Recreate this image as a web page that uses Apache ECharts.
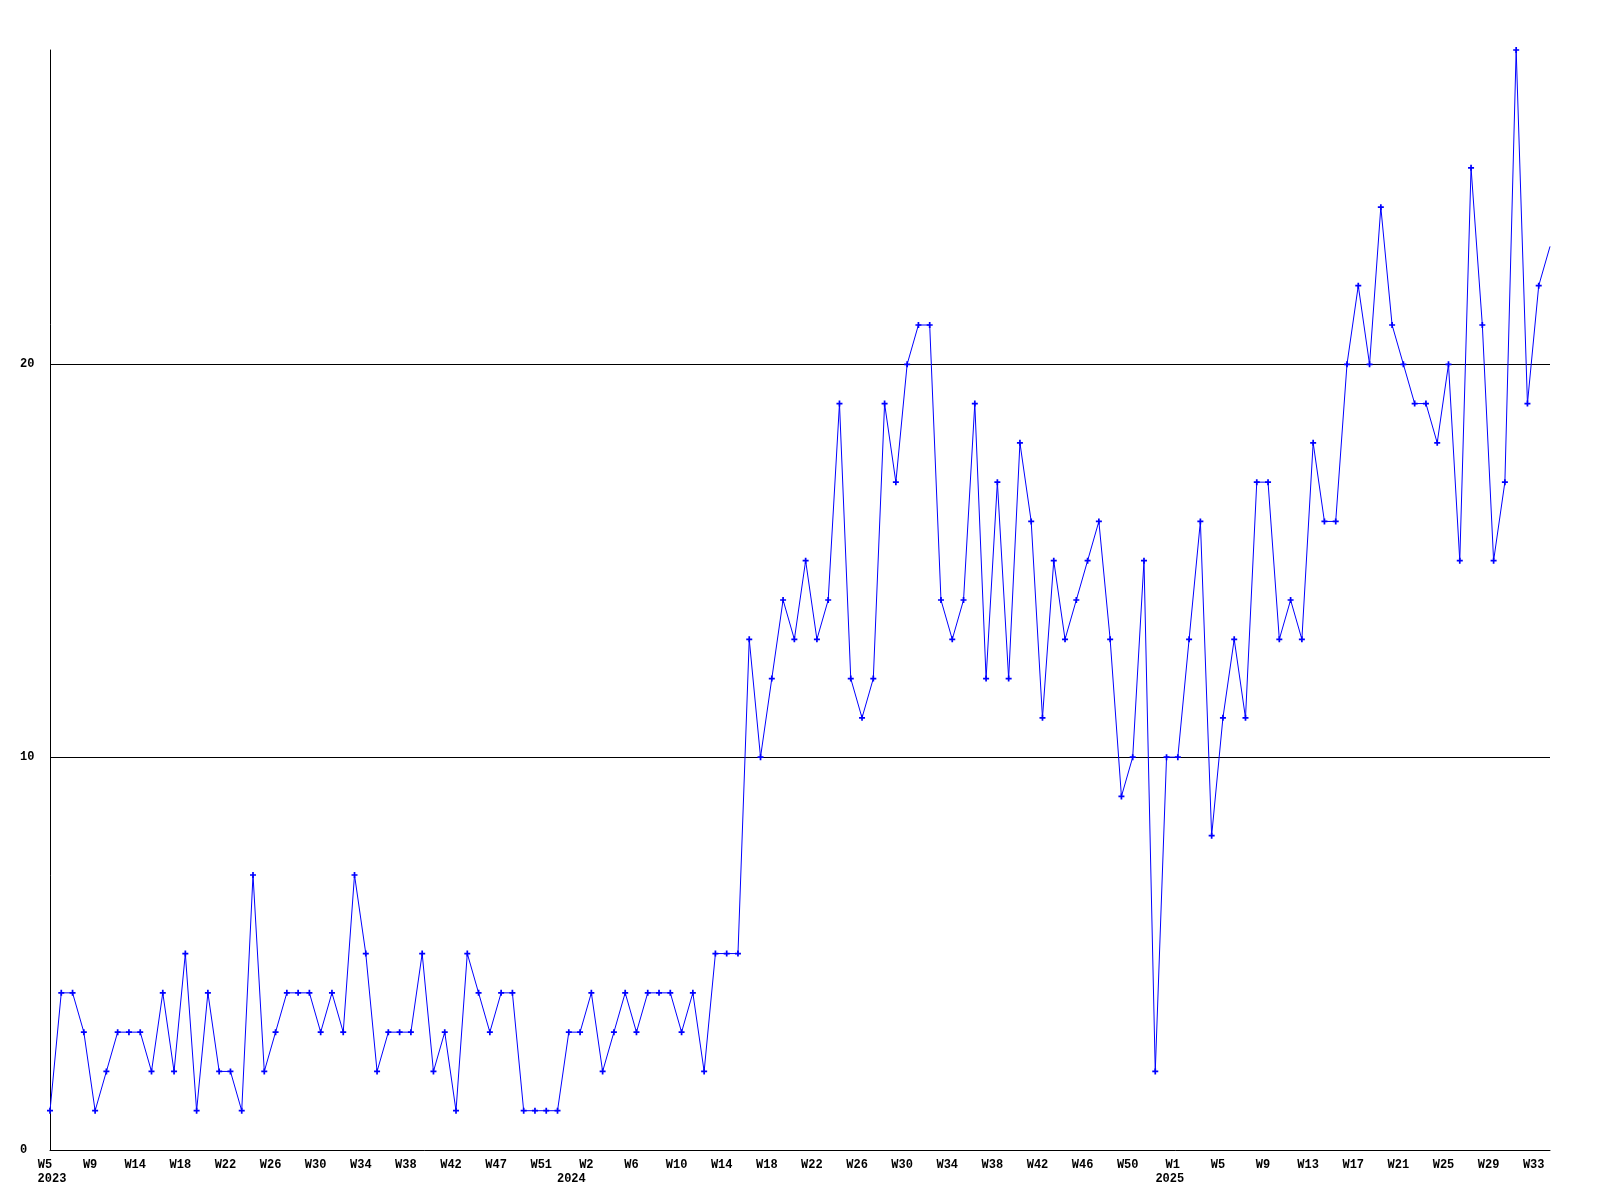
<!DOCTYPE html>
<html>
<head>
<meta charset="utf-8">
<script src="https://cdn.jsdelivr.net/npm/echarts@6/dist/echarts.min.js"></script>
<style>
html,body{margin:0;padding:0;background:#fff;}
#chart{width:1600px;height:1200px;}
</style>
</head>
<body>
<div id="chart"></div>
<script>
// weekly categories: 2023 W5 .. 2025 W34
var categories = [];
(function () {
  var spans = [[2023, 5, 52], [2024, 1, 52], [2025, 1, 34]];
  spans.forEach(function (s) {
    for (var w = s[1]; w <= s[2]; w++) categories.push(s[0] + '-W' + w);
  });
})();

var values = [
  1,4,4,3,1,2,3,3,3,2, 4,2,5,1,4,2,2,1,7,2, 3,4,4,4,3,4,3,7,5,2, 3,3,3,5,2,3,1,5,4,3, 4,4,1,1,1,1,3,3,4,
  2,3,4,3,4,4,4,3,4,2,5,5,5,
  13,10,12,14,13,15,13,14,19,12,11,12,19,17,20,21,21,14,13,14,19,12,17,12,18,16,11,15,13,14,15,16,13,9,10,15,
  2,10,10,13,16,8,11,13,11,17,17,13,14,13,18,16,16,20,22,20,24,21,20,19,19,18,20,15,25,21,15,17,28,19,22,23
];

var tickLabels = ['W5','W9','W14','W18','W22','W26','W30','W34','W38','W42','W47','W51',
  'W2','W6','W10','W14','W18','W22','W26','W30','W34','W38','W42','W46','W50',
  'W1','W5','W9','W13','W17','W21','W25','W29','W33'];
var yearLabels = { 0: '2023', 12: '2024', 25: '2025' };
var yearStyle = { 0: 'ya', 12: 'yb', 25: 'yc' };

var yTicks = [0, 10, 20];

var FONT = 'Liberation Mono';
var seriesData = values.map(function (v, i) {
  return i === values.length - 1 ? { value: v, symbol: 'none' } : v;
});

var chart = echarts.init(document.getElementById('chart'), null, { renderer: 'canvas' });
chart.setOption({
  animation: false,
  backgroundColor: '#ffffff',
  grid: { left: 50, right: 50, top: 50, bottom: 50, containLabel: false },
  xAxis: {
    type: 'category',
    data: categories,
    boundaryGap: false,
    axisLine: { show: true, lineStyle: { color: '#000', width: 1 } },
    axisTick: { show: false },
    splitLine: { show: false },
    axisLabel: {
      interval: function (index) { return index % 4 === 0; },
      margin: 8,
      color: '#000',
      fontFamily: FONT,
      fontWeight: 'bold',
      fontSize: 12,
      lineHeight: 14,
      formatter: function (value, index) {
        var k = index / 4;
        var t = '{w|' + tickLabels[k] + '}';
        if (yearLabels[k]) t += '\n{' + yearStyle[k] + '|' + yearLabels[k] + '}';
        return t;
      },
      rich: {
        w: { fontFamily: FONT, fontWeight: 'bold', fontSize: 12, lineHeight: 14, color: '#000', padding: [0, 10, 0, 0] },
        ya: { fontFamily: FONT, fontWeight: 'bold', fontSize: 12, lineHeight: 14, color: '#000', padding: [0, 0, 0, 4] },
        yb: { fontFamily: FONT, fontWeight: 'bold', fontSize: 12, lineHeight: 14, color: '#000', padding: [0, 40, 0, 0] },
        yc: { fontFamily: FONT, fontWeight: 'bold', fontSize: 12, lineHeight: 14, color: '#000', padding: [0, 16, 0, 0] }
      }
    }
  },
  yAxis: {
    type: 'value',
    min: 0,
    max: 28,
    interval: 10,
    axisLine: { show: true, lineStyle: { color: '#000', width: 1 } },
    axisTick: { show: false },
    splitLine: { show: true, showMinLine: false, showMaxLine: false, lineStyle: { color: '#000', width: 1 } },
    axisLabel: {
      showMaxLabel: false,
      align: 'left',
      margin: 30,
      color: '#000',
      fontFamily: FONT,
      fontWeight: 'bold',
      fontSize: 12,
      formatter: function (v) { return yTicks.indexOf(v) >= 0 ? String(v) : ''; }
    }
  },
  series: [{
    type: 'line',
    data: seriesData,
    showSymbol: true,
    showAllSymbol: true,
    symbol: 'path://M2.5,0H4.5V2.5H7V4.5H4.5V7H2.5V4.5H0V2.5H2.5Z',
    symbolSize: 6,
    itemStyle: { color: '#0000ff' },
    lineStyle: { color: '#0000ff', width: 1 },
    clip: true,
    silent: true
  }]
});
</script>
</body>
</html>
